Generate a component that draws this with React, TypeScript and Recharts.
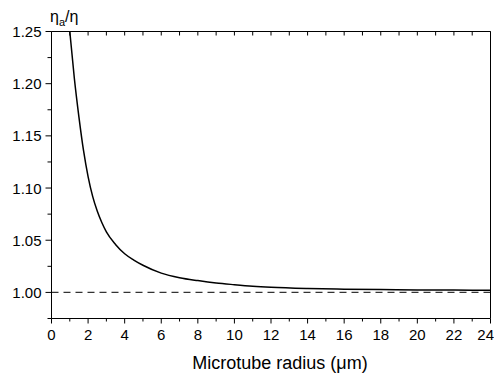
import { Line, LineChart, ReferenceLine, XAxis, YAxis } from "recharts";

// microtube radius (µm) and apparent / bulk viscosity ratio
const radius = [1, 1.25, 1.5, 1.75, 2, 2.25, 2.5, 2.75, 3, 3.5, 4, 4.5, 5, 6, 7, 8, 9, 10, 11, 12, 14, 16, 18, 20, 22, 24];
const ratio = [
  1.25, 1.205, 1.168, 1.136, 1.111, 1.092, 1.078, 1.067, 1.058, 1.046, 1.037, 1.031, 1.026, 1.0185, 1.0141,
  1.0113, 1.009, 1.0074, 1.006, 1.005, 1.0038, 1.0031, 1.0027, 1.0024, 1.0022, 1.002,
];

const xTicks = [0, 1, 2, 3, 4, 5, 6, 7, 8, 9, 10, 11, 12, 13, 14, 15, 16, 17, 18, 19, 20, 21, 22, 23, 24];
const yTicks = [0.975, 1.0, 1.025, 1.05, 1.075, 1.1, 1.125, 1.15, 1.175, 1.2, 1.225, 1.25];

const data = radius.map((r, i) => ({ r, v: ratio[i] }));

const FONT = "Liberation Sans, Arial, sans-serif";
const isMajorY = (v: number) => Math.abs(Math.round(v * 20) - v * 20) < 1e-6;

function BottomTick(props: any) {
  const { x, y, payload } = props;
  const major = payload.value % 2 === 0;
  // last label would run off the page edge, so pin it to the right
  const last = payload.value === xTicks[xTicks.length - 1];
  return (
    <g>
      <line x1={x} x2={x} y1={y} y2={y + (major ? 5 : 3)} stroke="#000" />
      {major && (
        <text
          x={last ? 494 : x}
          y={y + 21}
          textAnchor={last ? "end" : "middle"}
          fontSize={15}
          fontFamily={FONT}
          fill="#000"
        >
          {payload.value}
        </text>
      )}
    </g>
  );
}

function TopTick(props: any) {
  const { x, y } = props;
  return <line x1={x} x2={x} y1={y} y2={y + 4} stroke="#000" />;
}

function LeftTick(props: any) {
  const { x, y, payload } = props;
  const major = isMajorY(payload.value);
  return (
    <g>
      <line x1={x} x2={x - (major ? 6 : 4)} y1={y} y2={y} stroke="#000" />
      {major && (
        <text x={x - 10} y={y + 5.5} textAnchor="end" fontSize={15} fontFamily={FONT} fill="#000">
          {payload.value.toFixed(2)}
        </text>
      )}
    </g>
  );
}

function RightTick(props: any) {
  const { x, y } = props;
  return <line x1={x} x2={x - 3} y1={y} y2={y} stroke="#000" />;
}

export default function App() {
  return (
    <div style={{ position: "absolute", left: 0, top: 0, width: 494, height: 376, background: "#fff" }}>
      <LineChart width={494} height={376} data={data} margin={{ top: 30.5, right: 0, bottom: 0, left: 0 }}>
        <XAxis
          dataKey="r"
          type="number"
          domain={[0, 24]}
          ticks={xTicks}
          interval={0}
          height={57.5}
          axisLine={{ stroke: "#000" }}
          tickLine={false}
          tickSize={0}
          tickMargin={0}
          tick={<BottomTick />}
        />
        <XAxis
          xAxisId="top"
          orientation="top"
          dataKey="r"
          type="number"
          domain={[0, 24]}
          ticks={xTicks}
          interval={0}
          height={1}
          axisLine={{ stroke: "#000" }}
          tickLine={false}
          tickSize={0}
          tickMargin={0}
          tick={<TopTick />}
        />
        <YAxis
          type="number"
          domain={[0.975, 1.25]}
          ticks={yTicks}
          interval={0}
          width={51.5}
          axisLine={{ stroke: "#000" }}
          tickLine={false}
          tickSize={0}
          tickMargin={0}
          tick={<LeftTick />}
        />
        <YAxis
          yAxisId="right"
          orientation="right"
          type="number"
          domain={[0.975, 1.25]}
          ticks={yTicks}
          interval={0}
          width={3.5}
          axisLine={{ stroke: "#000" }}
          tickLine={false}
          tickSize={0}
          tickMargin={0}
          tick={<RightTick />}
        />
        <ReferenceLine y={1} stroke="#333" strokeWidth={1.3} strokeDasharray="7 5" />
        <Line
          dataKey="v"
          type="monotone"
          stroke="#000"
          strokeWidth={1.5}
          dot={false}
          activeDot={false}
          isAnimationActive={false}
        />
      </LineChart>
      <svg width={494} height={376} style={{ position: "absolute", left: 0, top: 0, pointerEvents: "none" }}>
        <text x={50} y={22} fontSize={16} fontFamily={FONT} fill="#000">
          η<tspan fontSize={11} dy={4}>a</tspan>
          <tspan dy={-4}>/η</tspan>
        </text>
        <text x={280} y={369} textAnchor="middle" fontSize={18} fontFamily={FONT} fill="#000">
          Microtube radius (μm)
        </text>
      </svg>
    </div>
  );
}
